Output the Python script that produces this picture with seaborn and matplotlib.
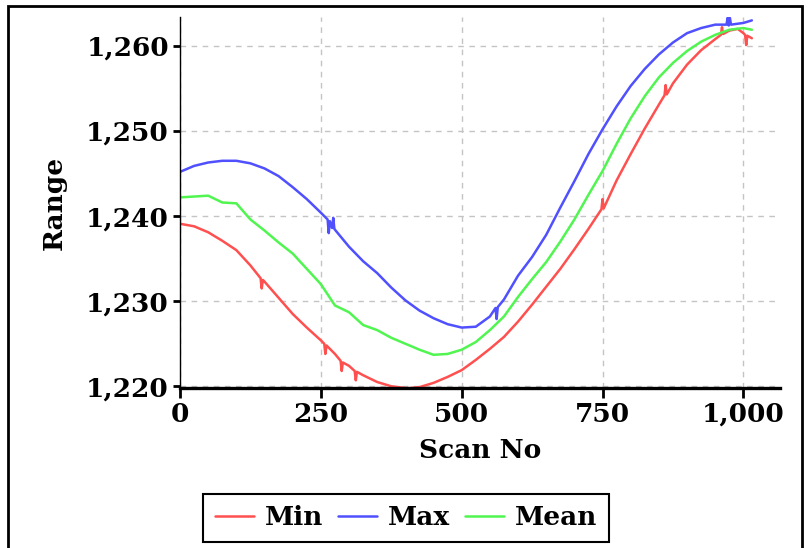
"""
Range per scan: min / max / mean traces, redrawn with seaborn.
"""
import matplotlib
matplotlib.use("Agg")
import matplotlib.pyplot as plt
from matplotlib.patches import Rectangle
from matplotlib.ticker import FuncFormatter
import pandas as pd
import seaborn as sns

# --- data ------------------------------------------------------------------
MIN_SCAN = [0, 25, 50, 75, 100, 125, 143, 145, 147, 150, 175, 200, 225, 250,
            256, 258, 260, 275, 285, 287, 289, 300, 310, 312, 314, 325, 350,
            375, 400, 405, 407, 409, 425, 450, 475, 500, 525, 550, 575, 600,
            625, 650, 675, 700, 725, 748, 750, 752, 775, 800, 825, 850, 860,
            862, 864, 875, 900, 925, 950, 960, 962, 964, 975, 990, 1000,
            1003, 1005, 1007, 1015]
MIN_VAL = [1239.1, 1238.8, 1238.1, 1237.1, 1236.0, 1234.2, 1232.7, 1231.5,
           1232.5, 1232.3, 1230.4, 1228.5, 1226.9, 1225.4, 1225.0, 1223.8,
           1224.8, 1223.8, 1223.0, 1221.8, 1222.8, 1222.4, 1221.8, 1220.7,
           1221.7, 1221.3, 1220.5, 1220.0, 1219.8, 1219.8, 1218.6, 1219.8,
           1219.9, 1220.4, 1221.1, 1221.9, 1223.1, 1224.4, 1225.8, 1227.6,
           1229.6, 1231.7, 1233.8, 1236.1, 1238.5, 1240.8, 1242.0, 1240.9,
           1244.2, 1247.3, 1250.3, 1253.1, 1254.2, 1255.4, 1254.3, 1255.6,
           1257.8, 1259.5, 1260.8, 1261.3, 1262.2, 1261.4, 1261.8, 1262.0,
           1261.5, 1261.3, 1260.1, 1261.2, 1260.9]

MAX_SCAN = [0, 25, 50, 75, 100, 125, 150, 175, 200, 225, 250, 262, 264, 266,
            270, 272, 274, 275, 300, 325, 350, 375, 400, 425, 450, 475, 500,
            525, 550, 560, 562, 564, 575, 600, 625, 650, 675, 700, 725, 750,
            775, 800, 825, 850, 875, 900, 925, 950, 970, 972, 974, 976, 978,
            1000, 1015]
MAX_VAL = [1245.2, 1245.9, 1246.3, 1246.5, 1246.5, 1246.2, 1245.6, 1244.7,
           1243.4, 1242.0, 1240.4, 1239.6, 1238.0, 1239.4, 1238.6, 1239.8,
           1238.5, 1238.4, 1236.4, 1234.7, 1233.3, 1231.6, 1230.1, 1228.9,
           1228.0, 1227.3, 1226.9, 1227.0, 1228.2, 1229.2, 1227.9, 1229.3,
           1230.2, 1233.0, 1235.2, 1237.8, 1241.0, 1244.1, 1247.3, 1250.2,
           1252.9, 1255.3, 1257.3, 1259.0, 1260.4, 1261.5, 1262.1, 1262.5,
           1262.5, 1263.3, 1262.4, 1263.3, 1262.5, 1262.7, 1263.0]

MEAN_SCAN = [0, 25, 50, 75, 100, 125, 150, 175, 200, 225, 250, 275, 300,
             325, 350, 375, 400, 425, 450, 475, 500, 525, 550, 575, 600, 625,
             650, 675, 700, 725, 750, 775, 800, 825, 850, 875, 900, 925, 950,
             975, 1000, 1015]
MEAN_VAL = [1242.2, 1242.3, 1242.4, 1241.6, 1241.5, 1239.6, 1238.3, 1236.9,
            1235.6, 1233.8, 1232.0, 1229.5, 1228.7, 1227.2, 1226.6, 1225.7,
            1225.0, 1224.3, 1223.7, 1223.8, 1224.3, 1225.2, 1226.6, 1228.2,
            1230.5, 1232.6, 1234.6, 1237.0, 1239.6, 1242.5, 1245.3, 1248.5,
            1251.5, 1254.1, 1256.3, 1258.0, 1259.4, 1260.5, 1261.3, 1261.9,
            1262.1, 1261.9]

SERIES = ["Min", "Max", "Mean"]
COLORS = {"Min": "#ff5050", "Max": "#5050ff", "Mean": "#50f550"}

X_TICKS = [0, 250, 500, 750, 1000]
Y_TICKS = [1220, 1230, 1240, 1250, 1260]


def build_frame():
    parts = []
    for name, xs, ys in [("Min", MIN_SCAN, MIN_VAL),
                         ("Max", MAX_SCAN, MAX_VAL),
                         ("Mean", MEAN_SCAN, MEAN_VAL)]:
        parts.append(pd.DataFrame({"scan": xs, "value": ys, "series": name}))
    return pd.concat(parts, ignore_index=True)


def main():
    sns.set_theme(style="white")
    plt.rcParams.update({
        "font.family": "DejaVu Serif",
        "font.weight": "bold",
        "axes.labelweight": "bold",
        "text.color": "black",
        "axes.labelcolor": "black",
        "xtick.color": "black",
        "ytick.color": "black",
    })

    df = build_frame()
    fig = plt.figure(figsize=(8.12, 5.48), dpi=100)
    ax = fig.add_axes([0.2217, 0.292, 0.7389, 0.677])

    sns.lineplot(data=df, x="scan", y="value", hue="series",
                 hue_order=SERIES, palette=COLORS, estimator=None,
                 linewidth=1.8, ax=ax)

    ax.set_xlim(0, 1065)
    ax.set_ylim(1219.8, 1263.4)
    ax.set_xticks(X_TICKS)
    ax.set_yticks(Y_TICKS)
    ax.xaxis.set_major_formatter(FuncFormatter(lambda v, p: f"{v:,.0f}"))
    ax.yaxis.set_major_formatter(FuncFormatter(lambda v, p: f"{v:,.0f}"))
    ax.grid(True, linestyle=(0, (4, 4)), color="#c4c4c4", linewidth=1)
    ax.set_axisbelow(True)

    for side in ("top", "right"):
        ax.spines[side].set_visible(False)
    ax.spines["left"].set_linewidth(1.0)
    ax.spines["left"].set_color("black")
    ax.spines["bottom"].set_linewidth(2.4)
    ax.spines["bottom"].set_color("black")

    ax.tick_params(axis="both", direction="out", labelsize=19, width=2,
                   colors="black", pad=3)
    ax.tick_params(axis="y", length=5, left=True)
    ax.tick_params(axis="x", length=7, bottom=True)

    ax.set_xlabel("Scan No", fontsize=19, fontweight="bold", labelpad=8,
                  color="black")
    ax.set_ylabel("Range", fontsize=19, fontweight="bold", labelpad=14,
                  color="black")

    handles, labels = ax.get_legend_handles_labels()
    ax.get_legend().remove()
    leg = fig.legend(handles, labels, loc="lower center",
                     bbox_to_anchor=(0.5, -0.004), ncol=3, frameon=True,
                     fancybox=False, edgecolor="black", framealpha=1.0,
                     handlelength=1.5, handletextpad=0.4, columnspacing=0.55,
                     borderpad=0.45, borderaxespad=0.3,
                     prop={"family": "DejaVu Serif", "weight": "bold",
                           "size": 19})
    leg.get_frame().set_linewidth(1.5)
    for txt in leg.get_texts():
        txt.set_color("black")

    fig.add_artist(Rectangle((8 / 812, -0.02), 794 / 812, 542 / 548 + 0.02,
                             transform=fig.transFigure, fill=False,
                             edgecolor="black", linewidth=2))

    fig.savefig("out.png", dpi=100)
    plt.close(fig)


if __name__ == "__main__":
    main()
